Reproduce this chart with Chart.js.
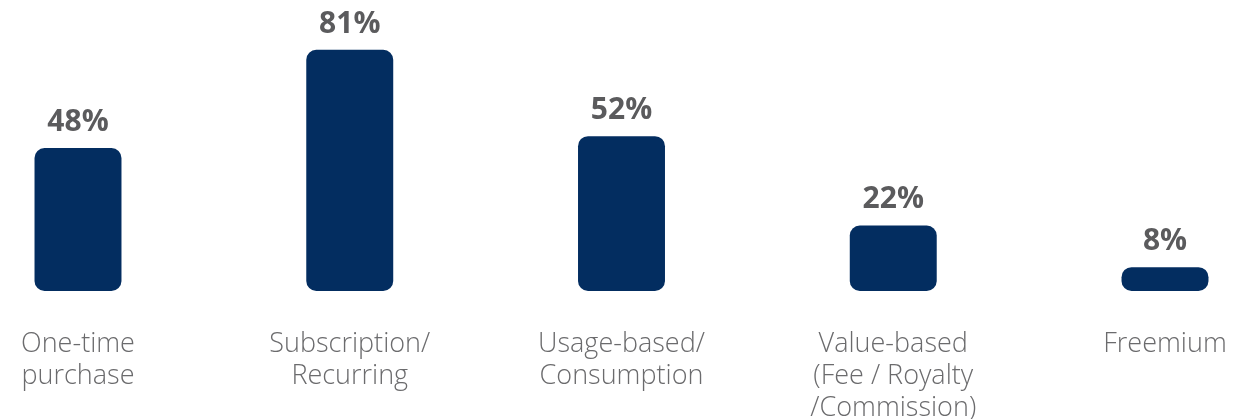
<!DOCTYPE html>
<html>
<head>
<meta charset="utf-8">
<script src="https://cdn.jsdelivr.net/npm/chart.js@4"></script>
<style>
  html, body { margin: 0; padding: 0; background: #ffffff; }
  #wrap { width: 1241px; height: 419px; }
</style>
</head>
<body>
<div id="wrap"><canvas id="chart"></canvas></div>
<script>
const categories = [
  ['One-time', 'purchase'],
  ['Subscription/', 'Recurring'],
  ['Usage-based/', 'Consumption'],
  ['Value-based', '(Fee / Royalty', '/Commission)'],
  ['Freemium']
];
const shares = [48, 81, 52, 22, 8];

// draws the "NN%" text above each bar
const valueLabels = {
  id: 'valueLabels',
  afterDatasetsDraw(chart) {
    const ctx = chart.ctx;
    const meta = chart.getDatasetMeta(0);
    ctx.save();
    ctx.font = 'bold 30px "Open Sans"';
    ctx.fillStyle = '#5b5b5d';
    ctx.textAlign = 'center';
    ctx.textBaseline = 'alphabetic';
    meta.data.forEach((bar, i) => {
      ctx.fillText(shares[i] + '%', bar.x, bar.y - 17);
    });
    ctx.restore();
  }
};

new Chart(document.getElementById('chart'), {
  type: 'bar',
  data: {
    labels: categories,
    datasets: [{
      data: shares,
      backgroundColor: '#032d60',
      borderRadius: 10,
      borderSkipped: false,
      categoryPercentage: 1,
      barPercentage: 0.32,
      clip: false
    }]
  },
  options: {
    responsive: true,
    maintainAspectRatio: false,
    animation: false,
    layout: { padding: { left: 78, right: 76, top: 23, bottom: 0 } },
    plugins: {
      legend: { display: false },
      tooltip: { enabled: false }
    },
    scales: {
      x: {
        offset: false,
        grid: { display: false, drawTicks: false },
        border: { display: false },
        // fixed axis height; edge labels may overhang the plot area
        afterFit(scale) {
          scale.height = 128;
          scale.paddingLeft = 0;
          scale.paddingRight = 0;
        },
        ticks: {
          autoSkip: false,
          maxRotation: 0,
          padding: 37,
          color: '#6b6b6d',
          font: { family: '"Open Sans"', size: 27, weight: 300, lineHeight: 1.185 }
        }
      },
      y: {
        display: false,
        min: 0,
        max: 90
      }
    }
  },
  plugins: [valueLabels]
});
</script>
</body>
</html>
